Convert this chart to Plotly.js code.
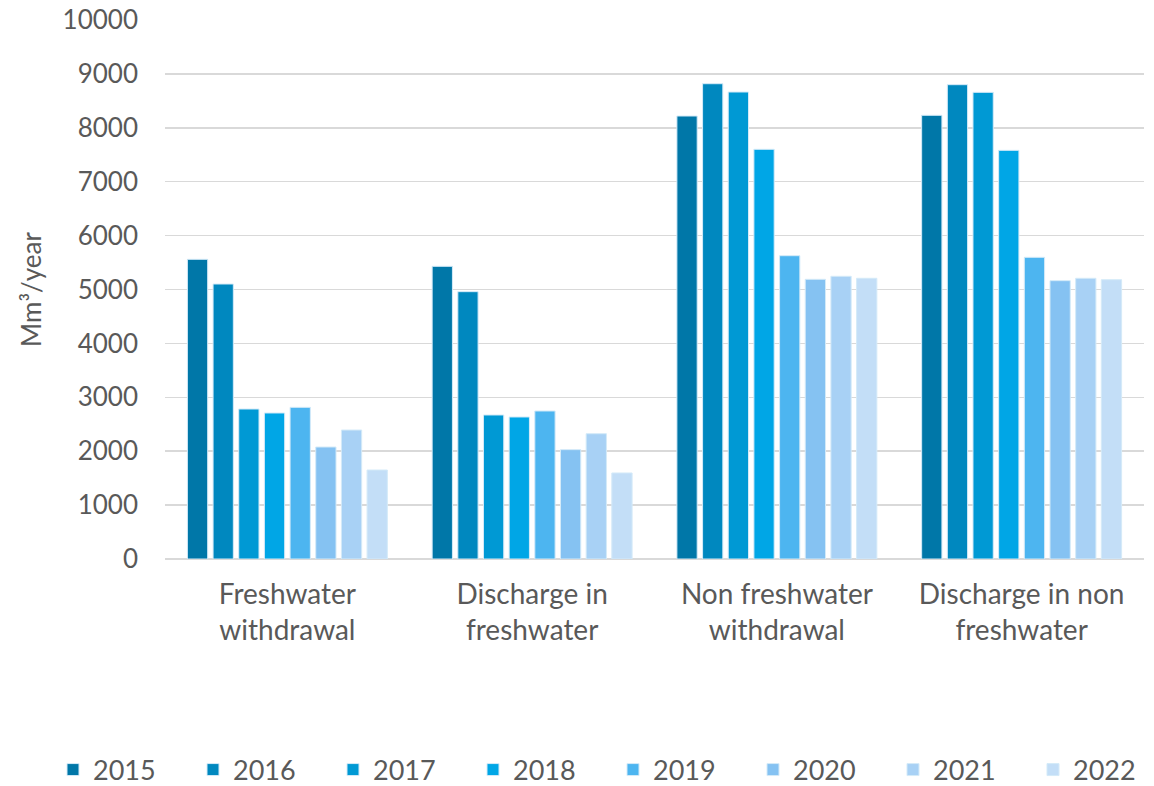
<!DOCTYPE html>
<html>
<head>
<meta charset="utf-8">
<script src="https://cdn.plot.ly/plotly-3.0.1.min.js"></script>
<style>html,body{margin:0;padding:0;background:#fff;}#chart{width:1154px;height:786px;}</style>
</head>
<body>
<div id="chart"></div>
<script>
const categories = ["Freshwater<br>withdrawal", "Discharge in<br>freshwater", "Non freshwater<br>withdrawal", "Discharge in non<br>freshwater"];
const years = ["2015", "2016", "2017", "2018", "2019", "2020", "2021", "2022"];
const v2015 = [5560, 5430, 8219, 8232];
const v2016 = [5102, 4960, 8818, 8800];
const v2017 = [2783, 2672, 8664, 8658];
const v2018 = [2709, 2635, 7601, 7582];
const v2019 = [2814, 2746, 5627, 5597];
const v2020 = [2078, 2029, 5189, 5164];
const v2021 = [2393, 2325, 5245, 5208];
const v2022 = [1651, 1596, 5208, 5182];
const seriesValues = [v2015, v2016, v2017, v2018, v2019, v2020, v2021, v2022];
const colors = ["#0077A8", "#0088BF", "#0099D4", "#00A6E6", "#4DB5F0", "#85C2F2", "#A8D1F5", "#C3DEF7"];
const yTicks = [0, 1000, 2000, 3000, 4000, 5000, 6000, 7000, 8000, 9000, 10000];

const fam = "Lato, 'Open Sans', sans-serif";
const grey = "#595959";

const traces = years.map((y, i) => ({
  type: "bar",
  name: y,
  x: categories,
  y: seriesValues[i],
  marker: {color: colors[i], line: {color: "#d4eaf8", width: 1}},
  hoverinfo: "x+y+name"
}));

const layout = {
  width: 1154, height: 786,
  margin: {l: 165, r: 10, t: 20, b: 227, autoexpand: false},
  paper_bgcolor: "#fff", plot_bgcolor: "#fff",
  font: {family: fam, size: 26, color: grey},
  barmode: "group",
  bargap: 0.161,
  bargroupgap: 0.21,
  showlegend: true,
  legend: {
    orientation: "h",
    xref: "paper", yref: "paper",
    x: -0.1144, xanchor: "left", y: -0.3915, yanchor: "middle",
    font: {family: fam, size: 27, color: grey},
    traceorder: "normal", entrywidth: 95, entrywidthmode: "pixels",
    itemclick: false
  },
  xaxis: {
    type: "category",
    showgrid: false, showline: false, zeroline: false,
    ticks: "", tickfont: {family: fam, size: 28, color: grey}, ticklabelstandoff: 16
  },
  yaxis: {
    range: [0, 10000],
    tickvals: yTicks,
    ticktext: yTicks.map(String),
    showgrid: true, gridcolor: "#d9d9d9", gridwidth: 1.5,
    zeroline: true, zerolinecolor: "#d9d9d9", zerolinewidth: 1.5,
    showline: false, ticks: "", tickfont: {family: fam, size: 26, color: grey}, ticklabelstandoff: 26,
    title: {text: "Mm³/year", font: {family: fam, size: 26, color: grey}, standoff: 13}
  }
};

Plotly.newPlot("chart", traces, layout, {displayModeBar: false, staticPlot: true});
</script>
</body>
</html>
